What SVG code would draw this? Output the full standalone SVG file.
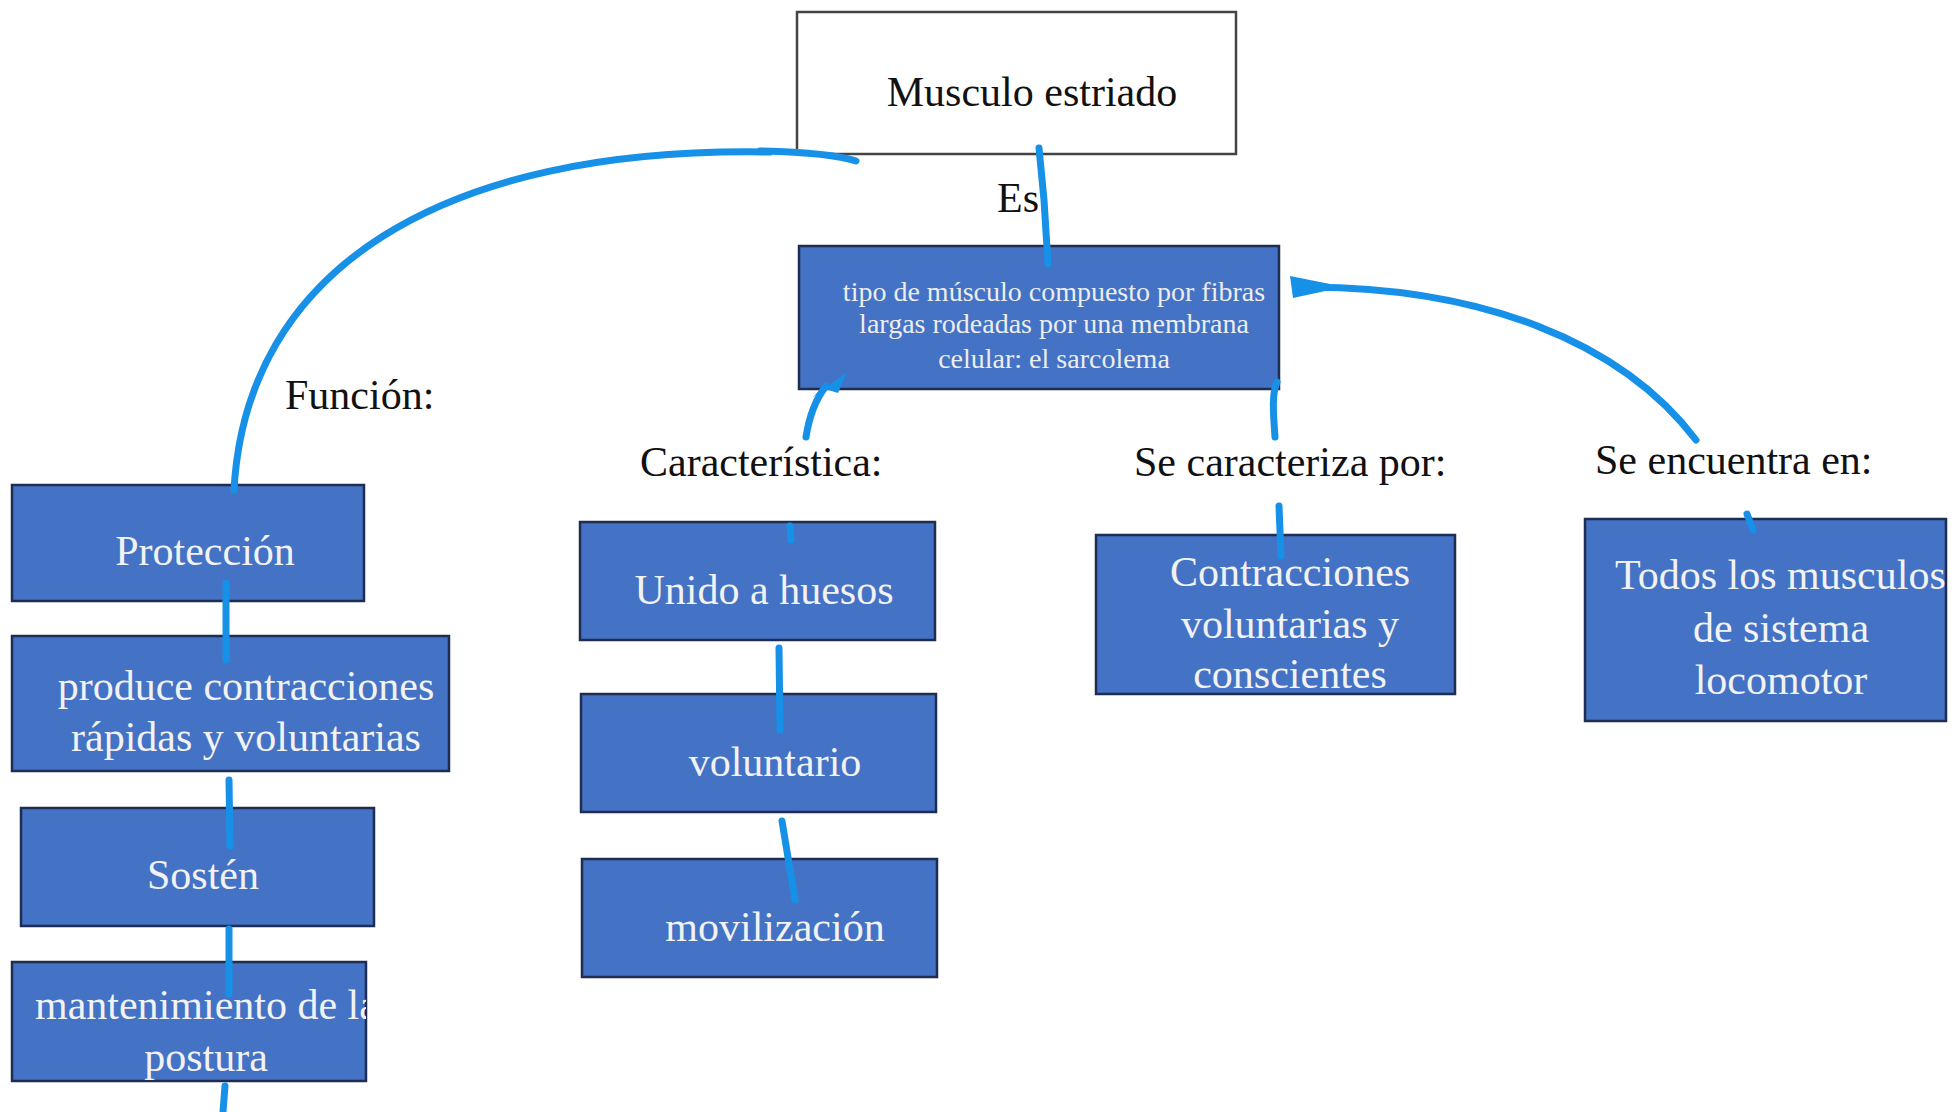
<svg xmlns="http://www.w3.org/2000/svg" width="1960" height="1112" viewBox="0 0 1960 1112">
<defs>
<style>
.bx{fill:#4472C4;stroke:#1F2D52;stroke-width:2.5}
.wb{fill:#FFFFFF;stroke:#444444;stroke-width:2.5}
.t{font-family:"Liberation Serif","Times New Roman",serif;font-size:42px;fill:#F2F2F2;text-anchor:middle}
.tl{font-family:"Liberation Serif","Times New Roman",serif;font-size:42px;fill:#F2F2F2;text-anchor:start}
.ts{font-family:"Liberation Serif","Times New Roman",serif;font-size:28px;fill:#EDEDED;text-anchor:middle}
.lb{font-family:"Liberation Serif","Times New Roman",serif;font-size:42px;fill:#111111}
.c{fill:none;stroke:#1791E8;stroke-width:7;stroke-linecap:round;stroke-linejoin:round}
.cf{fill:#1791E8;stroke:none}
</style>
<clipPath id="clipMant"><rect x="12" y="962" width="354" height="119"/></clipPath>
<clipPath id="clipTodos"><rect x="1585" y="519" width="361" height="202"/></clipPath>
</defs>
<rect width="1960" height="1112" fill="#FFFFFF"/>

<g id="n-musculo">
<rect class="wb" x="797" y="12" width="439" height="142"/>
<text class="lb" x="1032" y="106" text-anchor="middle">Musculo estriado</text>
</g>

<g id="n-tipo">
<rect class="bx" x="799" y="246" width="480" height="143"/>
<text class="ts" x="1054" y="301">tipo de músculo compuesto por fibras</text>
<text class="ts" x="1054" y="333">largas rodeadas por una membrana</text>
<text class="ts" x="1054" y="368">celular: el sarcolema</text>
</g>

<g id="labels">
<text class="lb" x="997" y="212">Es</text>
<text class="lb" x="285" y="409">Función:</text>
<text class="lb" x="640" y="476">Característica:</text>
<text class="lb" x="1134" y="476">Se caracteriza por:</text>
<text class="lb" x="1595" y="474">Se encuentra en:</text>
</g>

<g id="n-proteccion">
<rect class="bx" x="12" y="485" width="352" height="116"/>
<text class="t" x="205" y="565">Protección</text>
</g>

<g id="n-produce">
<rect class="bx" x="12" y="636" width="437" height="135"/>
<text class="t" x="246" y="700">produce contracciones</text>
<text class="t" x="246" y="751">rápidas y voluntarias</text>
</g>

<g id="n-sosten">
<rect class="bx" x="21" y="808" width="353" height="118"/>
<text class="t" x="203" y="889">Sostén</text>
</g>

<g id="n-mantenimiento">
<rect class="bx" x="12" y="962" width="354" height="119"/>
<g clip-path="url(#clipMant)">
<text class="tl" x="35" y="1019">mantenimiento de la</text>
</g>
<text class="t" x="206" y="1071">postura</text>
</g>

<g id="n-unido">
<rect class="bx" x="580" y="522" width="355" height="118"/>
<text class="t" x="764" y="604">Unido a huesos</text>
</g>

<g id="n-voluntario">
<rect class="bx" x="581" y="694" width="355" height="118"/>
<text class="t" x="775" y="776">voluntario</text>
</g>

<g id="n-movilizacion">
<rect class="bx" x="582" y="859" width="355" height="118"/>
<text class="t" x="775" y="941">movilización</text>
</g>

<g id="n-contracciones">
<rect class="bx" x="1096" y="535" width="359" height="159"/>
<text class="t" x="1290" y="586">Contracciones</text>
<text class="t" x="1290" y="638">voluntarias y</text>
<text class="t" x="1290" y="688">conscientes</text>
</g>

<g id="n-todos">
<rect class="bx" x="1585" y="519" width="361" height="202"/>
<g clip-path="url(#clipTodos)">
<text class="tl" x="1615" y="589">Todos los musculos</text>
</g>
<text class="t" x="1781" y="642">de sistema</text>
<text class="t" x="1781" y="694">locomotor</text>
</g>

<g id="connectors">
<path class="c" d="M 1039 148 L 1044 200 L 1048 264" stroke-width="11"/>
<path class="c" d="M 234 490 C 246 270, 440 146, 770 152"/>
<path class="c" d="M 760 151 C 800 152, 835 154, 856 161" stroke-width="13"/>
<path class="c" d="M 806 437 Q 811 405 826 386"/>
<polygon class="cf" points="812,398 847,372 838,393 822,388"/>
<path class="c" d="M 1277 382 C 1271 395, 1274 420, 1275 437" stroke-width="11"/>
<path class="c" d="M 1696 440 C 1620 340, 1480 288, 1310 287"/>
<polygon class="cf" points="1290,276 1293,298 1330,290 1330,284"/>
<path class="c" d="M 790 526 L 791 540"/>
<path class="c" d="M 1279 506 L 1281 556"/>
<path class="c" d="M 1747 514 L 1753 530"/>
<path class="c" d="M 779 648 L 780 730" stroke-width="9"/>
<path class="c" d="M 782 821 L 795 900" stroke-width="9"/>
<path class="c" d="M 226 583 L 226 660"/>
<path class="c" d="M 229 780 L 230 846"/>
<path class="c" d="M 229 929 L 229 994"/>
<path class="c" d="M 225 1086 L 223 1112"/>
</g>
</svg>
